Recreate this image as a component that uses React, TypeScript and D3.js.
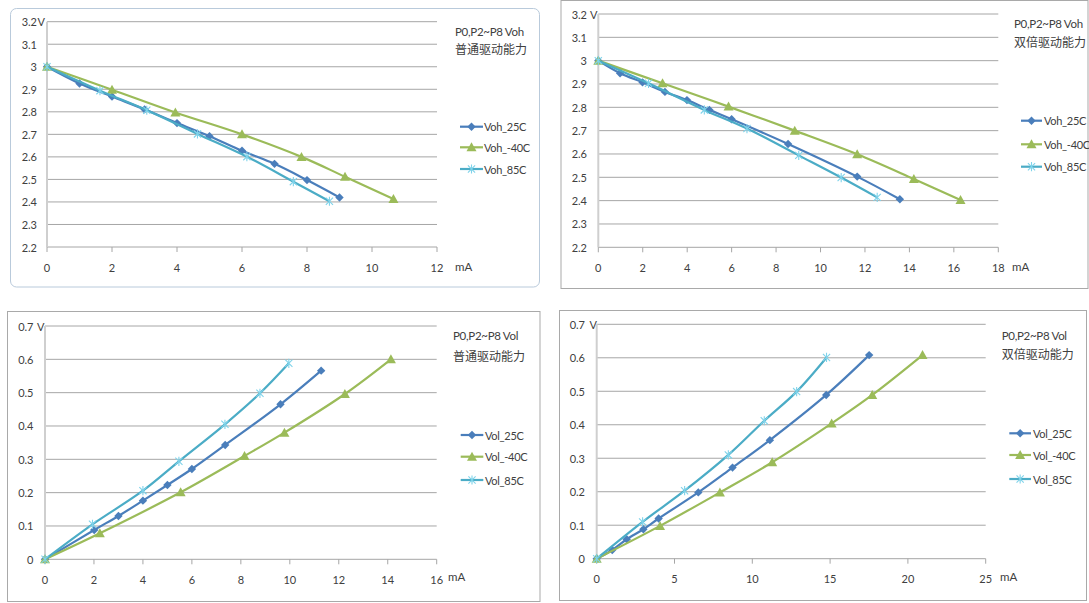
import React from "react";
import * as d3 from "d3";

// ---------- data ----------
const seriesNames = { voh: ["Voh_25C", "Voh_-40C", "Voh_85C"], vol: ["Vol_25C", "Vol_-40C", "Vol_85C"] };

const vohNormal25: [number, number][] = [[0, 3.0], [1, 2.926], [2, 2.868], [3, 2.811], [4, 2.75], [5, 2.692], [6, 2.627], [7, 2.569], [8, 2.497], [9, 2.42]];
const vohNormalM40: [number, number][] = [[0, 3.0], [2, 2.898], [3.95, 2.797], [6, 2.7], [7.83, 2.6], [9.17, 2.512], [10.66, 2.413]];
const vohNormal85: [number, number][] = [[0, 3.0], [1.63, 2.894], [3.07, 2.807], [4.63, 2.702], [6.15, 2.601], [7.58, 2.49], [8.69, 2.403]];

const vohDouble25: [number, number][] = [[0, 3.0], [0.98, 2.946], [1.99, 2.907], [3.0, 2.866], [3.99, 2.831], [5.0, 2.789], [6.0, 2.749], [8.54, 2.643], [11.65, 2.503], [13.57, 2.406]];
const vohDoubleM40: [number, number][] = [[0, 3.0], [2.89, 2.903], [5.86, 2.803], [8.84, 2.7], [11.65, 2.599], [14.2, 2.493], [16.3, 2.403]];
const vohDouble85: [number, number][] = [[0, 3.0], [2.26, 2.903], [4.77, 2.789], [6.69, 2.709], [9.02, 2.594], [10.93, 2.499], [12.55, 2.414]];

const volNormal25: [number, number][] = [[0, 0], [2.01, 0.088], [3.0, 0.13], [4.0, 0.176], [5.0, 0.223], [6.0, 0.271], [7.36, 0.343], [9.62, 0.465], [11.28, 0.566]];
const volNormalM40: [number, number][] = [[0, 0], [2.24, 0.078], [5.54, 0.201], [8.15, 0.31], [9.78, 0.38], [12.25, 0.496], [14.13, 0.6]];
const volNormal85: [number, number][] = [[0, 0], [1.94, 0.105], [4.0, 0.206], [5.47, 0.294], [7.35, 0.405], [8.78, 0.498], [9.96, 0.588]];

const volDouble25: [number, number][] = [[0, 0], [1.0, 0.026], [1.93, 0.058], [3.0, 0.088], [3.98, 0.12], [6.53, 0.198], [8.73, 0.272], [11.13, 0.354], [14.75, 0.489], [17.51, 0.608]];
const volDoubleM40: [number, number][] = [[0, 0], [4.07, 0.098], [7.92, 0.198], [11.28, 0.288], [15.1, 0.404], [17.71, 0.489], [20.94, 0.608]];
const volDouble85: [number, number][] = [[0, 0], [2.95, 0.11], [5.65, 0.203], [8.46, 0.31], [10.77, 0.412], [12.85, 0.499], [14.77, 0.601]];

const vohYTicks = [2.2, 2.3, 2.4, 2.5, 2.6, 2.7, 2.8, 2.9, 3, 3.1, 3.2];
const volYTicks = [0, 0.1, 0.2, 0.3, 0.4, 0.5, 0.6, 0.7];
const xTicks12 = [0, 2, 4, 6, 8, 10, 12];
const xTicks18 = [0, 2, 4, 6, 8, 10, 12, 14, 16, 18];
const xTicks16 = [0, 2, 4, 6, 8, 10, 12, 14, 16];
const xTicks25 = [0, 5, 10, 15, 20, 25];

const titles = {
  vohNormal: ["P0,P2~P8 Voh", "普通驱动能力"],
  vohDouble: ["P0,P2~P8 Voh", "双倍驱动能力"],
  volNormal: ["P0,P2~P8 Vol", "普通驱动能力"],
  volDouble: ["P0,P2~P8 Vol", "双倍驱动能力"],
};

// ---------- styles ----------
const COLORS = ["#4a7ebb", "#9bbb59", "#4bacc6"];
const MARK_COLORS = ["#4a7ebb", "#9bbb59", "#7fd3ea"];
const FONT = "Lato, 'Liberation Sans', sans-serif";
const CJK = "'Noto Sans CJK SC', sans-serif";
const TXT = "#404040";

function Marker({ kind, x, y }: { kind: number; x: number; y: number }) {
  if (kind === 0) {
    const s = 4.2;
    return <path d={`M${x},${y - s}L${x + s},${y}L${x},${y + s}L${x - s},${y}Z`} fill={MARK_COLORS[0]} />;
  }
  if (kind === 1) {
    const s = 5;
    return <path d={`M${x},${y - s}L${x + s},${y + s * 0.8}L${x - s},${y + s * 0.8}Z`} fill={MARK_COLORS[1]} />;
  }
  const s = 3.6;
  return (
    <path
      d={`M${x - s},${y - s}L${x + s},${y + s}M${x - s},${y + s}L${x + s},${y - s}M${x},${y - s - 1}L${x},${y + s + 1}`}
      stroke={MARK_COLORS[2]}
      strokeWidth={1.1}
      fill="none"
    />
  );
}

type PanelProps = {
  box: { x: number; y: number; w: number; h: number; rx: number; stroke: string };
  plot: { x0: number; x1: number; top: number; bottom: number };
  xDomain: [number, number];
  yDomain: [number, number];
  xTicks: number[];
  yTicks: number[];
  yFmt: (v: number) => string;
  vLabel: { dx: number };
  series: [number, number][][];
  names: string[];
  title: string[];
  titlePos: { x: number; y1: number; y2: number };
  legend: { x0: number; x1: number; tx: number; ys: number[] };
  mA: { x: number; y: number };
  xLabelY: number;
  yLabelX: number;
};

function Panel(p: PanelProps) {
  const xs = d3.scaleLinear().domain(p.xDomain).range([p.plot.x0, p.plot.x1]);
  const ys = d3.scaleLinear().domain(p.yDomain).range([p.plot.bottom, p.plot.top]);
  const line = d3
    .line<[number, number]>()
    .x((d) => xs(d[0]))
    .y((d) => ys(d[1]))
    .curve(d3.curveCatmullRom.alpha(0.5));
  const topTick = p.yTicks[p.yTicks.length - 1];
  return (
    <g>
      <rect x={p.box.x} y={p.box.y} width={p.box.w} height={p.box.h} rx={p.box.rx} fill="#fff" stroke={p.box.stroke} strokeWidth={1} />
      {/* gridlines */}
      {p.yTicks.map((t) => (
        <line key={"g" + t} x1={p.plot.x0} x2={p.plot.x1} y1={ys(t)} y2={ys(t)} stroke="#a6a6a6" strokeWidth={1} />
      ))}
      {/* y axis */}
      <line x1={p.plot.x0} x2={p.plot.x0} y1={p.plot.top} y2={p.plot.bottom} stroke="#cfcfcf" strokeWidth={2} />
      {/* x ticks */}
      {p.xTicks.map((t) => (
        <line key={"xt" + t} x1={xs(t)} x2={xs(t)} y1={p.plot.bottom} y2={p.plot.bottom + 5} stroke="#a6a6a6" strokeWidth={1} />
      ))}
      {p.xTicks.map((t) => (
        <text key={"xl" + t} x={xs(t)} y={p.xLabelY} textAnchor="middle" dominantBaseline="central" fontFamily={FONT} fontSize={11} fill={TXT}>
          {t}
        </text>
      ))}
      {p.yTicks.map((t) => (
        <text key={"yl" + t} x={p.yLabelX} y={ys(t)} textAnchor="end" dominantBaseline="central" fontFamily={FONT} fontSize={11} fill={TXT}>
          {p.yFmt(t)}
        </text>
      ))}
      <text x={p.yLabelX + p.vLabel.dx} y={ys(topTick)} dominantBaseline="central" fontFamily={FONT} fontSize={11} fill={TXT}>
        V
      </text>
      <text x={p.mA.x} y={p.mA.y} dominantBaseline="central" fontFamily={FONT} fontSize={11.5} fill={TXT}>
        mA
      </text>
      {/* series */}
      {p.series.map((s, i) => (
        <g key={"s" + i}>
          <path d={line(s) || ""} fill="none" stroke={COLORS[i]} strokeWidth={2.2} />
          {s.map((d, j) => (
            <Marker key={j} kind={i} x={xs(d[0])} y={ys(d[1])} />
          ))}
        </g>
      ))}
      {/* title */}
      <text x={p.titlePos.x} y={p.titlePos.y1} dominantBaseline="central" fontFamily={FONT} fontSize={11.5} letterSpacing={-0.3} fill={TXT}>
        {p.title[0]}
      </text>
      <text x={p.titlePos.x} y={p.titlePos.y2} dominantBaseline="central" fontFamily={CJK} fontSize={12} fill={TXT}>
        {p.title[1]}
      </text>
      {/* legend */}
      {p.names.map((n, i) => (
        <g key={"lg" + i}>
          <line x1={p.legend.x0} x2={p.legend.x1} y1={p.legend.ys[i]} y2={p.legend.ys[i]} stroke={COLORS[i]} strokeWidth={2.2} />
          <Marker kind={i} x={(p.legend.x0 + p.legend.x1) / 2} y={p.legend.ys[i]} />
          <text x={p.legend.tx} y={p.legend.ys[i]} dominantBaseline="central" fontFamily={FONT} fontSize={11} letterSpacing={-0.3} fill={TXT}>
            {n}
          </text>
        </g>
      ))}
    </g>
  );
}

const fmt1 = (v: number) => (Math.abs(v - Math.round(v)) < 1e-9 ? String(Math.round(v)) : v.toFixed(1));

export default function App() {
  return (
    <svg width={1089} height={603} style={{ position: "absolute", left: 0, top: 0, background: "#fff" }}>
      <rect x={0} y={0} width={1089} height={603} fill="#fff" />
      <Panel
        box={{ x: 10.5, y: 8.5, w: 529, h: 278.5, rx: 6, stroke: "#b9cadb" }}
        plot={{ x0: 47, x1: 437, top: 21.7, bottom: 247 }}
        xDomain={[0, 12]}
        yDomain={[2.2, 3.2]}
        xTicks={xTicks12}
        yTicks={vohYTicks}
        yFmt={fmt1}
        vLabel={{ dx: 0.5 }}
        series={[vohNormal25, vohNormalM40, vohNormal85]}
        names={seriesNames.voh}
        title={titles.vohNormal}
        titlePos={{ x: 455, y1: 31, y2: 48.7 }}
        legend={{ x0: 460, x1: 483, tx: 484, ys: [126.7, 147.3, 169] }}
        mA={{ x: 455, y: 266 }}
        xLabelY={267}
        yLabelX={37}
      />
      <Panel
        box={{ x: 561, y: 0.5, w: 527, h: 288, rx: 0, stroke: "#a9a9a9" }}
        plot={{ x0: 598.3, x1: 998.3, top: 14, bottom: 247.3 }}
        xDomain={[0, 18]}
        yDomain={[2.2, 3.2]}
        xTicks={xTicks18}
        yTicks={vohYTicks}
        yFmt={fmt1}
        vLabel={{ dx: 3 }}
        series={[vohDouble25, vohDoubleM40, vohDouble85]}
        names={seriesNames.voh}
        title={titles.vohDouble}
        titlePos={{ x: 1014, y1: 23.7, y2: 41.7 }}
        legend={{ x0: 1021, x1: 1042, tx: 1044, ys: [120.7, 144.3, 166.7] }}
        mA={{ x: 1012, y: 266.7 }}
        xLabelY={267}
        yLabelX={587}
      />
      <Panel
        box={{ x: 7.5, y: 311.5, w: 532.5, h: 290, rx: 0, stroke: "#a9a9a9" }}
        plot={{ x0: 45, x1: 436.7, top: 326, bottom: 559.3 }}
        xDomain={[0, 16]}
        yDomain={[0, 0.7]}
        xTicks={xTicks16}
        yTicks={volYTicks}
        yFmt={fmt1}
        vLabel={{ dx: 3.5 }}
        series={[volNormal25, volNormalM40, volNormal85]}
        names={seriesNames.vol}
        title={titles.volNormal}
        titlePos={{ x: 453, y1: 335, y2: 355 }}
        legend={{ x0: 460.7, x1: 483.3, tx: 485, ys: [435, 456.7, 480] }}
        mA={{ x: 448, y: 576.7 }}
        xLabelY={579.3}
        yLabelX={33.5}
      />
      <Panel
        box={{ x: 559.5, y: 310.5, w: 527, h: 290, rx: 0, stroke: "#a9a9a9" }}
        plot={{ x0: 596.7, x1: 985.7, top: 324.3, bottom: 558.7 }}
        xDomain={[0, 25]}
        yDomain={[0, 0.7]}
        xTicks={xTicks25}
        yTicks={volYTicks}
        yFmt={fmt1}
        vLabel={{ dx: 4.5 }}
        series={[volDouble25, volDoubleM40, volDouble85]}
        names={seriesNames.vol}
        title={titles.volDouble}
        titlePos={{ x: 1001.7, y1: 335, y2: 353.3 }}
        legend={{ x0: 1009.3, x1: 1031, tx: 1033, ys: [433.3, 455, 479] }}
        mA={{ x: 1000, y: 576.7 }}
        xLabelY={578.3}
        yLabelX={585}
      />
    </svg>
  );
}
